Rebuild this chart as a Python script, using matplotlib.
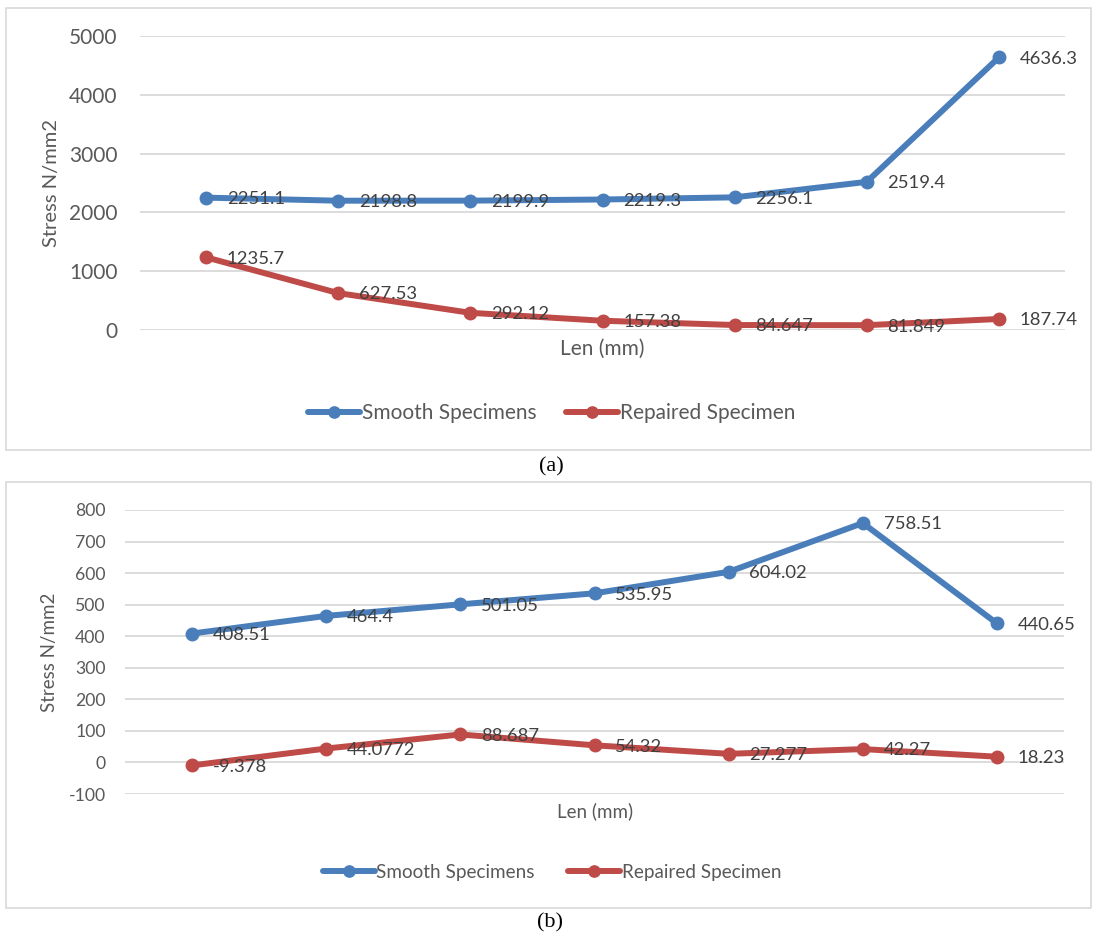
import numpy as np
import matplotlib
matplotlib.use('Agg')
import matplotlib.pyplot as plt
from matplotlib.patches import Rectangle

# data
positions = np.arange(7)
smooth_a = [2251.1, 2198.8, 2199.9, 2219.3, 2256.1, 2519.4, 4636.3]
repaired_a = [1235.7, 627.53, 292.12, 157.38, 84.647, 81.849, 187.74]
smooth_b = [408.51, 464.4, 501.05, 535.95, 604.02, 758.51, 440.65]
repaired_b = [-9.378, 44.0772, 88.687, 54.32, 27.277, 42.27, 18.23]
ticks_a = [0, 1000, 2000, 3000, 4000, 5000]
ticks_b = [-100, 0, 100, 200, 300, 400, 500, 600, 700, 800]
series_names = ['Smooth Specimens', 'Repaired Specimen']

BLUE = '#4A7EBB'
RED = '#BE4B48'
GRID = '#D9D9D9'
TICK = '#595959'
LABEL = '#404040'

plt.rcParams['font.family'] = ['Lato', 'DejaVu Sans']
plt.rcParams['axes.unicode_minus'] = False

W, H = 1094, 938
fig = plt.figure(figsize=(W / 100, H / 100), dpi=100)


def fx(x):
	return x / W


def fy(y):
	return 1 - y / H


def frame(x0, y0, x1, y1):
	fig.patches.append(Rectangle((fx(x0), fy(y1)), fx(x1 - x0), (y1 - y0) / H,
		transform=fig.transFigure, fill=False, ec=GRID, lw=1.2))


def panel(box, series, ticks, ylim, tick_size, lab_size, pad):
	x0, y0, x1, y1 = box
	ax = fig.add_axes([fx(x0), fy(y1), fx(x1 - x0), (y1 - y0) / H])
	handles = []
	for vals, color in series:
		h, = ax.plot(positions, vals, color=color, lw=4.3, marker='o', ms=9,
			solid_capstyle='round', clip_on=False, zorder=3)
		handles.append(h)
		for x, v in zip(positions, vals):
			ax.annotate(f'{v:g}', (x, v), xytext=(15, -1), textcoords='offset points',
				ha='left', va='center', fontsize=lab_size, color=LABEL, zorder=4)
	ax.set_xlim(-0.5, 6.5)
	ax.set_ylim(*ylim)
	ax.set_yticks(ticks)
	ax.set_xticks([])
	ax.grid(axis='y', color=GRID, lw=1.3)
	ax.set_axisbelow(True)
	for s in ax.spines.values():
		s.set_visible(False)
	ax.tick_params(axis='y', length=0, pad=pad, labelsize=tick_size, labelcolor=TICK)
	return ax, handles


# (a)
frame(6, 8, 1091, 450)
ax_a, h_a = panel((140, 36, 1065, 330), [(smooth_a, BLUE), (repaired_a, RED)],
	ticks_a, (0, 5000), 15, 13.3, 16)
fig.text(fx(52), fy(183), 'Stress N/mm2', rotation=90, ha='center', va='center',
	fontsize=14.5, color=TICK)
fig.text(fx(602), fy(349), 'Len (mm)', ha='center', va='center', fontsize=15, color=TICK)
fig.legend(h_a, series_names, loc='center', bbox_to_anchor=(fx(552), fy(413)), ncol=2,
	frameon=False, fontsize=15, labelcolor=TICK, handlelength=2.5, handletextpad=0.1,
	columnspacing=1.4, markerscale=0.9)
fig.text(fx(551), fy(467), '(a)', ha='center', va='center', fontsize=16,
	family='Liberation Serif', color='black')

# (b)
frame(6, 482, 1091, 908)
ax_b, h_b = panel((125, 510, 1064, 794), [(smooth_b, BLUE), (repaired_b, RED)],
	ticks_b, (-100, 800), 12.7, 13.3, 14)
fig.text(fx(50), fy(652), 'Stress N/mm2', rotation=90, ha='center', va='center',
	fontsize=13.5, color=TICK)
fig.text(fx(595), fy(811), 'Len (mm)', ha='center', va='center', fontsize=13.5, color=TICK)
fig.legend(h_b, series_names, loc='center', bbox_to_anchor=(fx(552), fy(872)), ncol=2,
	frameon=False, fontsize=13.6, labelcolor=TICK, handlelength=2.75, handletextpad=0.1,
	columnspacing=1.75, markerscale=0.9)
fig.text(fx(550), fy(923), '(b)', ha='center', va='center', fontsize=16,
	family='Liberation Serif', color='black')

fig.savefig('out.png', dpi=100)
